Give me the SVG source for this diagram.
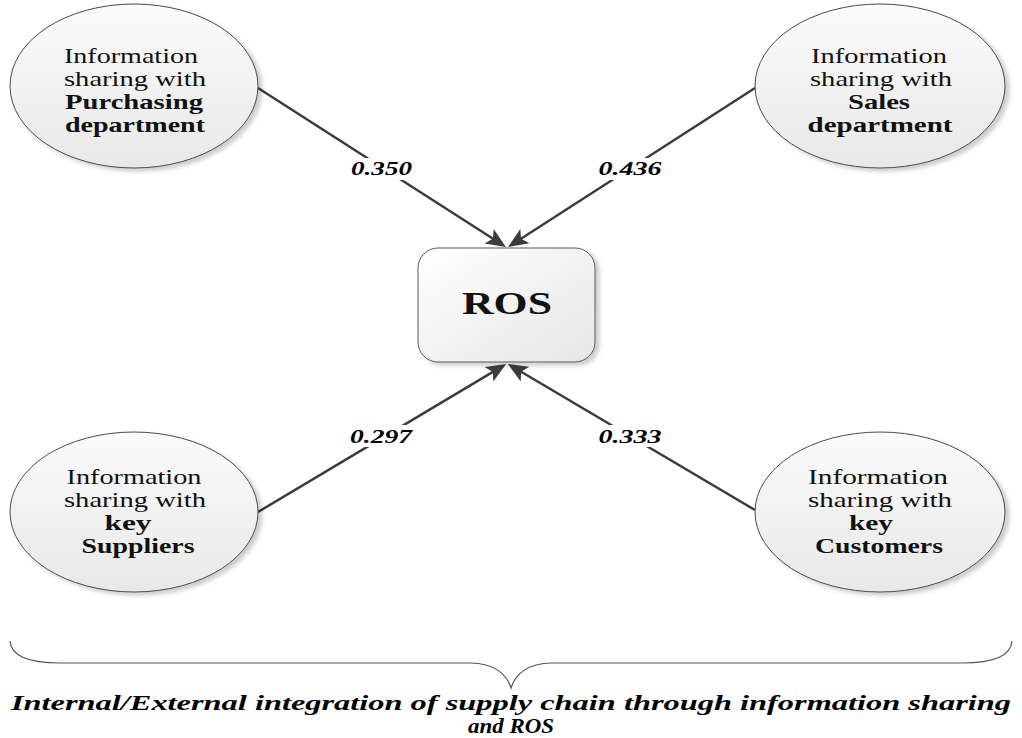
<svg xmlns="http://www.w3.org/2000/svg" width="1022" height="738" viewBox="0 0 1022 738">
  <defs>
    <linearGradient id="nodeFill" x1="0" y1="0" x2="0" y2="1">
      <stop offset="0" stop-color="#fbfbfb"/>
      <stop offset="1" stop-color="#e8e8e8"/>
    </linearGradient>
    <linearGradient id="boxFill" x1="0" y1="0" x2="1" y2="1">
      <stop offset="0" stop-color="#ffffff"/>
      <stop offset="1" stop-color="#e6e6e6"/>
    </linearGradient>
    <filter id="shadow" x="-10%" y="-10%" width="125%" height="125%">
      <feGaussianBlur in="SourceAlpha" stdDeviation="2"/>
      <feOffset dx="4" dy="3" result="off"/>
      <feFlood flood-color="#000" flood-opacity="0.2"/>
      <feComposite in2="off" operator="in"/>
      <feMerge>
        <feMergeNode/>
        <feMergeNode in="SourceGraphic"/>
      </feMerge>
    </filter>
    <marker id="arrow" markerUnits="userSpaceOnUse" orient="auto" refX="0" refY="0" markerWidth="1" markerHeight="1" overflow="visible">
      <path d="M13,0 L-7,-8.5 L-2.5,0 L-7,8.5 Z" fill="#3c3c3c"/>
    </marker>
  </defs>
  <style>
    .ell { fill: url(#nodeFill); stroke: #4a4a4a; stroke-width: 1; filter: url(#shadow); }
    .box { fill: url(#boxFill); stroke: #5a5a5a; stroke-width: 1; filter: url(#shadow); }
    .txt { font-family: "Liberation Serif", "Times New Roman", serif; font-size: 21px; fill: #111; text-anchor: middle; }
    .b { font-weight: bold; }
    .edge { stroke: #3c3c3c; stroke-width: 2.5; fill: none; marker-end: url(#arrow); }
    .lbl { font-family: "Liberation Serif", "Times New Roman", serif; font-size: 18px; font-weight: bold; font-style: italic; fill: #000; text-anchor: middle; }
    .lblbg { fill: #ffffff; }
    .title { font-family: "Liberation Serif", "Times New Roman", serif; font-size: 22px; font-weight: bold; font-style: italic; fill: #000; text-anchor: middle; }
    .brace { fill: none; stroke: #555; stroke-width: 1.2; }
  </style>

  <rect width="1022" height="738" fill="#ffffff"/>

  <!-- connectors with their weights -->
  <g id="connectors">
    <path class="edge" d="M258,88 L495,240"/>
    <path class="edge" d="M755,88 L519,240"/>
    <path class="edge" d="M258,512 L495,370.6"/>
    <path class="edge" d="M755,510 L519,370.5"/>

    <rect class="lblbg" x="346" y="158" width="71" height="22"/>
    <text class="lbl" x="381.5" y="175" textLength="61" lengthAdjust="spacingAndGlyphs">0.350</text>

    <rect class="lblbg" x="595" y="158" width="71" height="22"/>
    <text class="lbl" x="630" y="175" textLength="63" lengthAdjust="spacingAndGlyphs">0.436</text>

    <rect class="lblbg" x="346" y="425" width="71" height="22"/>
    <text class="lbl" x="381" y="443" textLength="62" lengthAdjust="spacingAndGlyphs">0.297</text>

    <rect class="lblbg" x="595" y="425" width="71" height="22"/>
    <text class="lbl" x="630" y="443" textLength="63" lengthAdjust="spacingAndGlyphs">0.333</text>
  </g>

  <!-- information sharing nodes -->
  <g id="node-purchasing">
    <ellipse class="ell" cx="134" cy="86" rx="124" ry="82"/>
    <text class="txt" x="131" y="63" textLength="134" lengthAdjust="spacingAndGlyphs">Information</text>
    <text class="txt" x="135" y="86" textLength="142" lengthAdjust="spacingAndGlyphs">sharing with</text>
    <text class="txt b" x="134" y="109" textLength="138" lengthAdjust="spacingAndGlyphs">Purchasing</text>
    <text class="txt b" x="135" y="132" textLength="140" lengthAdjust="spacingAndGlyphs">department</text>
  </g>

  <g id="node-sales">
    <ellipse class="ell" cx="880" cy="86" rx="125" ry="82"/>
    <text class="txt" x="879" y="63" textLength="136" lengthAdjust="spacingAndGlyphs">Information</text>
    <text class="txt" x="881" y="86" textLength="142" lengthAdjust="spacingAndGlyphs">sharing with</text>
    <text class="txt b" x="879" y="109" textLength="62" lengthAdjust="spacingAndGlyphs">Sales</text>
    <text class="txt b" x="880" y="132" textLength="145" lengthAdjust="spacingAndGlyphs">department</text>
  </g>

  <g id="node-suppliers">
    <ellipse class="ell" cx="134" cy="512" rx="124" ry="80"/>
    <text class="txt" x="134" y="484" textLength="135" lengthAdjust="spacingAndGlyphs">Information</text>
    <text class="txt" x="135" y="507" textLength="142" lengthAdjust="spacingAndGlyphs">sharing with</text>
    <text class="txt b" x="128" y="530" textLength="47" lengthAdjust="spacingAndGlyphs">key</text>
    <text class="txt b" x="138" y="553" textLength="113" lengthAdjust="spacingAndGlyphs">Suppliers</text>
  </g>

  <g id="node-customers">
    <ellipse class="ell" cx="880" cy="512" rx="125" ry="80"/>
    <text class="txt" x="878" y="484" textLength="140" lengthAdjust="spacingAndGlyphs">Information</text>
    <text class="txt" x="880" y="507" textLength="144" lengthAdjust="spacingAndGlyphs">sharing with</text>
    <text class="txt b" x="871" y="530" textLength="44" lengthAdjust="spacingAndGlyphs">key</text>
    <text class="txt b" x="879" y="553" textLength="128" lengthAdjust="spacingAndGlyphs">Customers</text>
  </g>

  <!-- central outcome -->
  <g id="node-ros">
    <rect class="box" x="418" y="248" width="177" height="114" rx="20" ry="20"/>
    <text class="txt b" x="507" y="314" style="font-size:31px" textLength="90" lengthAdjust="spacingAndGlyphs">ROS</text>
  </g>

  <!-- grouping brace and caption -->
  <g id="caption">
    <path class="brace" d="M10,641 C11,656 30,663 60,663 L470,663 C495,663 507,675 511,688 C515,675 527,663 552,663 L962,663 C992,663 1011,656 1012,641"/>
    <text class="title" x="511" y="710" textLength="1000" lengthAdjust="spacingAndGlyphs">Internal/External integration of supply chain through information sharing</text>
    <text class="title" x="511" y="733" textLength="86" lengthAdjust="spacingAndGlyphs">and ROS</text>
  </g>
</svg>
